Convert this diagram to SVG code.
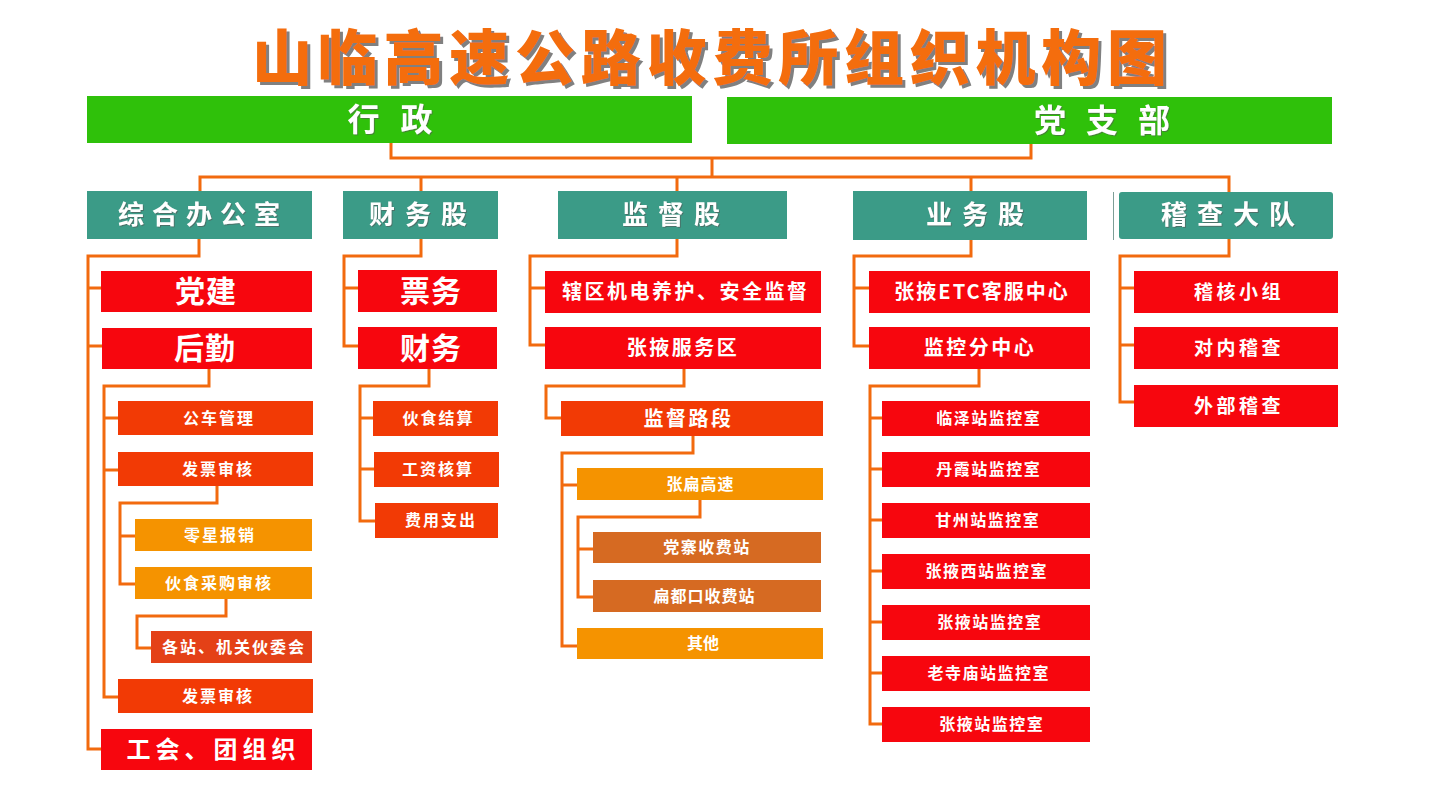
<svg xmlns="http://www.w3.org/2000/svg" width="1437" height="794" viewBox="0 0 1437 794">
<defs>
<filter id="sh" x="-5%" y="-20%" width="110%" height="140%"><feDropShadow dx="3" dy="3" stdDeviation="0.6" flood-color="#808080" flood-opacity="1"/></filter>
<filter id="ts" x="-5%" y="-20%" width="110%" height="140%"><feDropShadow dx="1" dy="1" stdDeviation="0.4" flood-color="#555" flood-opacity="0.6"/></filter>
</defs>
<style>
text{font-family:"Noto Sans CJK SC","Noto Sans",sans-serif;font-weight:bold;fill:#fff;text-anchor:middle}
.green{fill:#2FC10A}
.teal{fill:#3B9B87}
.red{fill:#F7060E}
.or{fill:#F23A05}
.yl{fill:#F59300}
.rb{fill:#E44117}
.br{fill:#D66A22}
.c{fill:none;stroke:#F26A0E;stroke-width:3}
.t30{font-size:30px;letter-spacing:1px}
.t26{font-size:26px;letter-spacing:10px}
.t20{font-size:20px;letter-spacing:2.5px}
.t16{font-size:16px;letter-spacing:2px}
.t16b{font-size:16px;letter-spacing:1.5px}
.t19{font-size:19px;letter-spacing:3.5px}
</style>
<rect width="1437" height="794" fill="#fff"/>
<text x="252" y="80" style="font-size:60px;font-weight:900;fill:#F46D0E;text-anchor:start" textLength="915" lengthAdjust="spacing" filter="url(#sh)">山临高速公路收费所组织机构图</text>

<g id="connectors">
<path class="c" d="M391,143 V158 H1031 V144 M712,158 V177 M200,191 V177 H1229 V192 M421,177 V191 M677,177 V191 M971,177 V191"/>
<path class="c" d="M199,239 V256 H88 V749 H101 M88,288 H101 M88,346 H102"/>
<path class="c" d="M209,369 V386 H104 V697 H118 M104,418 H118 M104,470 H118"/>
<path class="c" d="M217,486 V503 H120 V584 H135 M120,536 H135"/>
<path class="c" d="M226,599 V616 H137 V648 H151"/>
<path class="c" d="M421,239 V256 H344 V346 H358 M344,288 H358"/>
<path class="c" d="M429,369 V386 H360 V521 H375 M360,418 H373 M360,469 H374"/>
<path class="c" d="M677,239 V256 H530 V345 H545 M530,288 H545"/>
<path class="c" d="M684,369 V386 H546 V418 H561"/>
<path class="c" d="M693,436 V453 H562 V646 H577 M562,485 H577"/>
<path class="c" d="M700,500 V517 H578 V597 H593 M578,549 H593"/>
<path class="c" d="M971,240 V256 H854 V346 H869 M854,288 H869"/>
<path class="c" d="M979,369 V386 H870 V724 H882 M870,418 H882 M870,469 H882 M870,520 H882 M870,571 H882 M870,622 H882 M870,673 H882"/>
<path class="c" d="M1229,239 V256 H1120 V402 H1134 M1120,288 H1134 M1120,345 H1134"/>
</g>

<g id="xingzheng"><rect class="green" x="87" y="96" width="605" height="47"/><text x="400.5" y="131" style="font-size:32px;letter-spacing:21px" filter="url(#ts)">行政</text></g>
<g id="dangzhibu"><rect class="green" x="727" y="97" width="605" height="47"/><text x="1112" y="132" style="font-size:32px;letter-spacing:20px" filter="url(#ts)">党支部</text></g>

<g id="zonghe"><rect class="teal" x="87" y="191" width="225" height="48"/><text class="t26" x="203" y="224.4" style="letter-spacing:8px" filter="url(#ts)">综合办公室</text></g>
<g id="caiwugu"><rect class="teal" x="343" y="191" width="155" height="48"/><text class="t26" x="423" y="224.4" filter="url(#ts)">财务股</text></g>
<g id="jiandugu"><rect class="teal" x="558" y="191" width="229" height="48"/><text class="t26" x="676" y="224.4" filter="url(#ts)">监督股</text></g>
<g id="yewugu"><rect class="teal" x="853" y="191" width="234" height="49"/><text class="t26" x="980" y="224.4" filter="url(#ts)">业务股</text></g>
<g id="jichadadui"><line x1="1113.5" y1="192" x2="1113.5" y2="240" stroke="#7d9e97" stroke-width="1"/><rect class="teal" x="1119" y="192" width="214" height="47" rx="3"/><text class="t26" x="1233" y="224.4" filter="url(#ts)">稽查大队</text></g>

<g id="dangjian"><rect class="red" x="101" y="271" width="211" height="41"/><text class="t30" x="206" y="302.3">党建</text></g>
<g id="houqin"><rect class="red" x="102" y="328" width="210" height="41"/><text class="t30" x="205" y="359.3">后勤</text></g>
<g id="gongche"><rect class="or" x="118" y="401" width="195" height="34"/><text class="t16" x="219" y="423.8">公车管理</text></g>
<g id="fapiao1"><rect class="or" x="118" y="452" width="195" height="34"/><text class="t16" x="218" y="474.8">发票审核</text></g>
<g id="lingxing"><rect class="yl" x="135" y="519" width="177" height="32"/><text class="t16" x="220" y="540.8">零星报销</text></g>
<g id="huoshicaigou"><rect class="yl" x="135" y="567" width="177" height="32"/><text class="t16" x="219" y="588.8">伙食采购审核</text></g>
<g id="huowei"><rect class="rb" x="151" y="631" width="161" height="32"/><text x="234" y="652.8" style="font-size:16px;letter-spacing:2px">各站、机关伙委会</text></g>
<g id="fapiao2"><rect class="or" x="118" y="679" width="195" height="34"/><text class="t16" x="218" y="701.8">发票审核</text></g>
<g id="gonghui"><rect class="red" x="101" y="729" width="211" height="41"/><text x="213.5" y="758.1" style="font-size:24px;letter-spacing:5px">工会、团组织</text></g>

<g id="piaowu"><rect class="red" x="358" y="270" width="139" height="42"/><text class="t30" x="431" y="301.8">票务</text></g>
<g id="caiwu"><rect class="red" x="358" y="327" width="139" height="42"/><text class="t30" x="431" y="358.8">财务</text></g>
<g id="huoshijiesuan"><rect class="or" x="373" y="401" width="125" height="35"/><text class="t16" x="438.5" y="424.3">伙食结算</text></g>
<g id="gongzi"><rect class="or" x="374" y="452" width="125" height="35"/><text class="t16" x="438" y="475.3">工资核算</text></g>
<g id="feiyong"><rect class="or" x="375" y="503" width="123" height="35"/><text class="t16" x="441" y="526.3">费用支出</text></g>

<g id="xiaqu"><rect class="red" x="545" y="271" width="276" height="42"/><text class="t20" x="685.7" y="299.2">辖区机电养护、安全监督</text></g>
<g id="fuwuqu"><rect class="red" x="545" y="327" width="276" height="42"/><text class="t20" x="683" y="355.2">张掖服务区</text></g>
<g id="jiandulu"><rect class="or" x="561" y="401" width="262" height="35"/><text class="t20" x="688.5" y="425.7">监督路段</text></g>
<g id="zhangbian"><rect class="yl" x="577" y="468" width="246" height="32"/><text x="700.5" y="489.8" style="font-size:16px;letter-spacing:1px">张扁高速</text></g>
<g id="dangzhai"><rect class="br" x="593" y="532" width="228" height="31"/><text class="t16b" x="707" y="553.3">党寨收费站</text></g>
<g id="biandukou"><rect class="br" x="593" y="580" width="228" height="32"/><text x="704.5" y="601.8" style="font-size:16px;letter-spacing:1px">扁都口收费站</text></g>
<g id="qita"><rect class="yl" x="577" y="628" width="246" height="31"/><text x="703" y="649.3" style="font-size:16px">其他</text></g>

<g id="etc"><rect class="red" x="869" y="271" width="221" height="42"/><text x="982" y="299.2" style="font-size:20px;letter-spacing:2px">张掖ETC客服中心</text></g>
<g id="jiankong"><rect class="red" x="869" y="327" width="221" height="42"/><text class="t20" x="980" y="355.2">监控分中心</text></g>
<g id="linze"><rect class="red" x="882" y="401" width="208" height="35"/><text class="t16b" x="988.7" y="424.3">临泽站监控室</text></g>
<g id="danxia"><rect class="red" x="882" y="452" width="208" height="35"/><text class="t16b" x="988.7" y="475.3">丹霞站监控室</text></g>
<g id="ganzhou"><rect class="red" x="882" y="503" width="208" height="35"/><text class="t16b" x="987.7" y="526.3">甘州站监控室</text></g>
<g id="zhangyexi"><rect class="red" x="882" y="554" width="208" height="35"/><text class="t16b" x="986.7" y="577.3">张掖西站监控室</text></g>
<g id="zhangye1"><rect class="red" x="882" y="605" width="208" height="35"/><text class="t16b" x="989.7" y="628.3">张掖站监控室</text></g>
<g id="laosimiao"><rect class="red" x="882" y="656" width="208" height="35"/><text class="t16b" x="988.7" y="679.3">老寺庙站监控室</text></g>
<g id="zhangye2"><rect class="red" x="882" y="707" width="208" height="35"/><text class="t16b" x="991.7" y="730.3">张掖站监控室</text></g>

<g id="jihe"><rect class="red" x="1134" y="271" width="204" height="42"/><text class="t19" x="1239" y="298.8">稽核小组</text></g>
<g id="duinei"><rect class="red" x="1134" y="327" width="204" height="42"/><text class="t19" x="1239" y="354.8">对内稽查</text></g>
<g id="waibu"><rect class="red" x="1134" y="385" width="204" height="42"/><text class="t19" x="1239" y="412.8">外部稽查</text></g>
</svg>
